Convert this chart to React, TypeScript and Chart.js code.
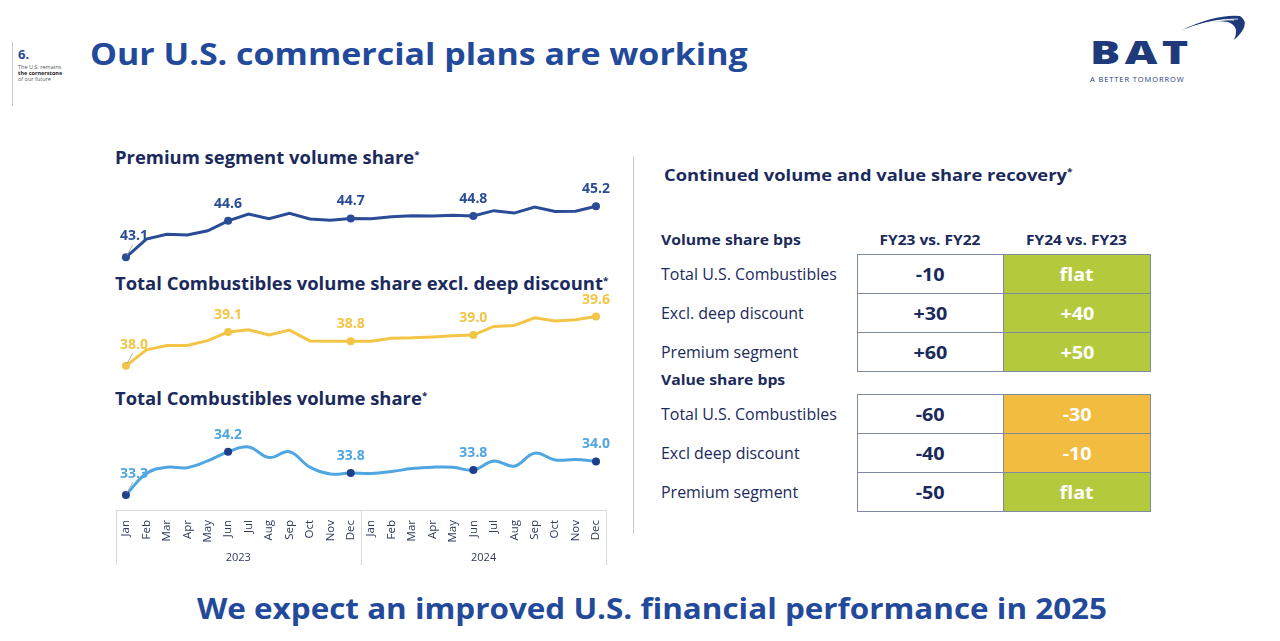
import React, { useEffect, useRef } from "react";
import { Chart, registerables } from "chart.js";

Chart.register(...registerables);

// ---------- data ----------
const months = ["Jan", "Feb", "Mar", "Apr", "May", "Jun", "Jul", "Aug", "Sep", "Oct", "Nov", "Dec"];
const monthLabels = [...months, ...months];
const years = ["2023", "2024"];

const premiumShare = [43.1, 43.85, 44.05, 44.02, 44.19, 44.6, 44.88, 44.69, 44.91, 44.68, 44.63, 44.7, 44.69, 44.77, 44.81, 44.8, 44.83, 44.8, 45.02, 44.92, 45.17, 44.99, 45.0, 45.2];
const exclDeepDiscountShare = [38.0, 38.52, 38.66, 38.66, 38.82, 39.1, 39.17, 39.0, 39.16, 38.81, 38.8, 38.8, 38.8, 38.9, 38.91, 38.94, 38.98, 39.0, 39.28, 39.31, 39.56, 39.46, 39.5, 39.6];
const totalCombustiblesShare = [33.3, 33.75, 33.88, 33.87, 34.01, 34.2, 34.3, 34.08, 34.2, 33.88, 33.74, 33.76, 33.75, 33.79, 33.85, 33.88, 33.88, 33.82, 34.01, 33.9, 34.17, 34.03, 34.04, 34.0];
const labelledIndices = [0, 5, 11, 17, 23];

const tableColumns = ["FY23 vs. FY22", "FY24 vs. FY23"];
const volumeRows = ["Total U.S. Combustibles", "Excl. deep discount", "Premium segment"];
const volumeFY23 = ["-10", "+30", "+60"];
const volumeFY24 = ["flat", "+40", "+50"];
const valueRows = ["Total U.S. Combustibles", "Excl deep discount", "Premium segment"];
const valueFY23 = ["-60", "-40", "-50"];
const valueFY24 = ["-30", "-10", "flat"];

// ---------- styles ----------
const FONT = "'Open Sans', sans-serif";
const TITLE_BLUE = "#23499a";
const NAVY = "#1b2a5c";
const PREMIUM_C = "#2a4c96";
const EXCL_C = "#f3c546";
const TOTAL_C = "#4fa6e0";
const GREEN = "#b5c93c";
const ORANGE = "#f1bc40";
const LOGO_C = "#1e3a7b";

const pointLabelPlugin = {
  id: "pointLabelPlugin",
  afterDatasetsDraw(chart: any) {
    const ctx = chart.ctx;
    ctx.save();
    ctx.font = `700 14px ${FONT}`;
    ctx.textAlign = "center";
    ctx.textBaseline = "middle";
    chart.data.datasets.forEach((ds: any, di: number) => {
      const meta = chart.getDatasetMeta(di);
      labelledIndices.forEach((i) => {
        const el = meta.data[i];
        if (!el) return;
        const v = Number(ds.data[i]).toFixed(1);
        let x = el.x;
        let y = el.y - 17;
        if (i === 0) {
          x = el.x + 8;
          y = el.y - 21;
          ctx.strokeStyle = "#9a9a9a";
          ctx.lineWidth = 0.8;
          ctx.beginPath();
          ctx.moveTo(el.x + 1, el.y - 2);
          ctx.lineTo(el.x + 7, el.y - 13);
          ctx.stroke();
        }
        ctx.fillStyle = ds.labelColor;
        ctx.fillText(v, x, y);
      });
    });
    ctx.restore();
  },
};

const axisBoxPlugin = {
  id: "axisBoxPlugin",
  afterDraw(chart: any) {
    const ctx = chart.ctx;
    const xs = chart.scales.x;
    const top = chart.chartArea.bottom;
    const bottom = top + 55;
    const step = xs.getPixelForValue(1) - xs.getPixelForValue(0);
    const left = xs.getPixelForValue(0) - step / 2;
    const mid = (xs.getPixelForValue(11) + xs.getPixelForValue(12)) / 2;
    const right = xs.getPixelForValue(23) + step / 2;
    ctx.save();
    ctx.strokeStyle = "#d9d9d9";
    ctx.lineWidth = 1;
    ctx.beginPath();
    ctx.moveTo(left, top + 0.5);
    ctx.lineTo(right, top + 0.5);
    [left, mid, right].forEach((x) => {
      ctx.moveTo(Math.round(x) + 0.5, top);
      ctx.lineTo(Math.round(x) + 0.5, bottom);
    });
    ctx.stroke();
    ctx.fillStyle = "#2d3a5c";
    ctx.font = `400 11px ${FONT}`;
    ctx.textAlign = "center";
    ctx.textBaseline = "middle";
    ctx.fillText(years[0], (left + mid) / 2, bottom - 7);
    ctx.fillText(years[1], (mid + right) / 2, bottom - 7);
    ctx.restore();
  },
};

function LineCharts() {
  const ref = useRef<HTMLCanvasElement>(null);
  useEffect(() => {
    if (!ref.current) return;
    const radius = (ctx: any) => (labelledIndices.includes(ctx.dataIndex) ? 4 : 0);
    const chart = new Chart(ref.current, {
      type: "line",
      data: {
        labels: monthLabels,
        datasets: [
          {
            data: premiumShare,
            yAxisID: "yPremium",
            borderColor: PREMIUM_C,
            borderWidth: 3,
            tension: 0,
            pointRadius: radius,
            pointBackgroundColor: PREMIUM_C,
            pointBorderWidth: 0,
            labelColor: PREMIUM_C,
          } as any,
          {
            data: exclDeepDiscountShare,
            yAxisID: "yExcl",
            borderColor: EXCL_C,
            borderWidth: 3,
            tension: 0,
            pointRadius: radius,
            pointBackgroundColor: EXCL_C,
            pointBorderWidth: 0,
            labelColor: EXCL_C,
          } as any,
          {
            data: totalCombustiblesShare,
            yAxisID: "yTotal",
            borderColor: TOTAL_C,
            borderWidth: 3,
            tension: 0.4,
            pointRadius: radius,
            pointBackgroundColor: "#1f3f8c",
            pointBorderWidth: 0,
            labelColor: TOTAL_C,
          } as any,
        ],
      },
      options: {
        animation: false,
        responsive: false,
        devicePixelRatio: 1,
        clip: false as any,
        layout: { padding: { top: 10, left: 15.7, right: 9.7, bottom: 15 } },
        plugins: { legend: { display: false }, tooltip: { enabled: false } },
        scales: {
          x: {
            type: "category",
            offset: true,
            grid: { display: false, drawTicks: false },
            border: { display: false },
            ticks: {
              autoSkip: false,
              minRotation: 90,
              maxRotation: 90,
              padding: 10,
              color: "#2d3a5c",
              font: { family: FONT, size: 11.5 },
            },
            afterFit: (s: any) => {
              s.height = 55;
            },
          },
          yPremium: { display: false, min: 32.7, max: 45.87 },
          yExcl: { display: false, min: 33.32, max: 43.71 },
          yTotal: { display: false, min: 32.99, max: 39.64 },
        },
      },
      plugins: [pointLabelPlugin, axisBoxPlugin],
    });
    return () => chart.destroy();
  }, []);
  return (
    <canvas
      ref={ref}
      width={520}
      height={400}
      style={{ position: "absolute", left: 100, top: 180, width: 520, height: 400 }}
    />
  );
}

const abs = (o: any): any => ({ position: "absolute", ...o });
const wide = (sx: number, origin = "left center") => ({ transform: `scaleX(${sx})`, transformOrigin: origin });

function Star() {
  return <sup style={{ fontSize: 9, verticalAlign: "top", position: "relative", top: -3 }}>*</sup>;
}

function ChartTitle({ text, top }: { text: string; top: number }) {
  return (
    <div style={abs({ left: 115, top, fontFamily: FONT, fontWeight: 700, fontSize: 17, color: NAVY, whiteSpace: "nowrap", lineHeight: "20px", ...wide(1.085) })}>
      {text}
      <Star />
    </div>
  );
}

function Table({ top, header, rows, c1, c2, withHeaderCols }: any) {
  const rowH = 39;
  const x1 = 857;
  const x2 = 1003;
  const x3 = 1150;
  const cellBox = { display: "flex", alignItems: "center", justifyContent: "center", boxSizing: "border-box" as const, border: "1px solid #7f8aa3" };
  const cellText = { fontFamily: FONT, fontWeight: 700, fontSize: 18, display: "inline-block", ...wide(1.1, "center") };
  return (
    <>
      <div style={abs({ left: 661, top: top - 24, fontFamily: FONT, fontWeight: 700, fontSize: 14.5, color: NAVY, lineHeight: "20px", whiteSpace: "nowrap", ...wide(1.085) })}>{header}</div>
      {withHeaderCols &&
        tableColumns.map((c, i) => (
          <div key={c} style={abs({ left: i === 0 ? x1 : x2, width: i === 0 ? x2 - x1 : x3 - x2, top: top - 24, textAlign: "center", fontFamily: FONT, fontWeight: 700, fontSize: 14.5, color: NAVY, lineHeight: "20px", ...wide(1.07, "center") })}>{c}</div>
        ))}
      {rows.map((r: string, i: number) => (
        <React.Fragment key={r + i}>
          <div style={abs({ left: 661, top: top + i * rowH, height: rowH, display: "flex", alignItems: "center", fontFamily: FONT, fontSize: 15.5, color: NAVY, whiteSpace: "nowrap", ...wide(1.03) })}>{r}</div>
          <div style={abs({ ...cellBox, left: x1, top: top + i * rowH, width: x2 - x1 + 1, height: rowH + 1, background: "#fff", color: NAVY })}>
            <span style={cellText}>{c1[i]}</span>
          </div>
          <div style={abs({ ...cellBox, left: x2, top: top + i * rowH, width: x3 - x2 + 1, height: rowH + 1, background: c2[i].startsWith("-") ? ORANGE : GREEN, color: "#fff" })}>
            <span style={cellText}>{c2[i]}</span>
          </div>
        </React.Fragment>
      ))}
    </>
  );
}

function Logo() {
  return (
    <div style={abs({ left: 1088, top: 10, width: 170, height: 80 })}>
      <svg width="170" height="80" style={{ position: "absolute", left: 0, top: 0 }}>
        <path d="M94 20 Q 128 4 152 6 Q 164 14 146 30 Q 152 16 140 12 Q 122 9 94 20 Z" fill={LOGO_C} />
        <path d="M104 17 Q 130 8 146 10" stroke="#fff" strokeWidth="1" fill="none" />
        <path d="M116 14 Q 136 9 150 9" stroke="#fff" strokeWidth="0.8" fill="none" />
      </svg>
      <div style={abs({ left: 2, top: 22, fontFamily: FONT, fontWeight: 800, fontSize: 31, color: LOGO_C, letterSpacing: 3, lineHeight: "40px", ...wide(1.45) })}>BAT</div>
      <div style={abs({ left: 2, top: 64, fontFamily: FONT, fontSize: 7.5, color: LOGO_C, letterSpacing: 0.9, whiteSpace: "nowrap", lineHeight: "10px" })}>A BETTER TOMORROW</div>
    </div>
  );
}

export default function App() {
  return (
    <div style={{ position: "fixed", left: 0, top: 0, width: 1280, height: 641, background: "#fff", overflow: "hidden" }}>
      {/* header */}
      <div style={abs({ left: 12, top: 42, width: 1, height: 64, background: "#c8c8c8" })} />
      <div style={abs({ left: 18, top: 45, fontFamily: FONT, fontWeight: 700, fontSize: 13, color: TITLE_BLUE })}>6.</div>
      <div style={abs({ left: 18, top: 64, fontFamily: FONT, fontSize: 5.5, lineHeight: "6px", color: "#555" })}>
        The U.S. remains
        <br />
        <b style={{ color: "#222" }}>the cornerstone</b>
        <br />
        of our future
      </div>
      <div style={abs({ left: 90, top: 32, fontFamily: FONT, fontWeight: 700, fontSize: 31, color: TITLE_BLUE, whiteSpace: "nowrap", lineHeight: "42px", ...wide(1.095) })}>
        Our U.S. commercial plans are working
      </div>
      <Logo />

      {/* left charts */}
      <ChartTitle text="Premium segment volume share" top={148} />
      <ChartTitle text="Total Combustibles volume share excl. deep discount" top={274} />
      <ChartTitle text="Total Combustibles volume share" top={389} />
      <LineCharts />

      {/* divider */}
      <div style={abs({ left: 633, top: 157, width: 1, height: 377, background: "#c8c8c8" })} />

      {/* right table */}
      <div style={abs({ left: 664, top: 164, fontFamily: FONT, fontWeight: 700, fontSize: 16.5, color: NAVY, whiteSpace: "nowrap", lineHeight: "22px", ...wide(1.11) })}>
        Continued volume and value share recovery
        <Star />
      </div>
      <Table top={254} header="Volume share bps" rows={volumeRows} c1={volumeFY23} c2={volumeFY24} withHeaderCols />
      <Table top={394} header="Value share bps" rows={valueRows} c1={valueFY23} c2={valueFY24} withHeaderCols={false} />

      {/* bottom */}
      <div style={abs({ left: 652, top: 588, fontFamily: FONT, fontWeight: 700, fontSize: 29, color: TITLE_BLUE, whiteSpace: "nowrap", lineHeight: "40px", transform: "translateX(-50%) scaleX(1.083)", transformOrigin: "center" })}>
        We expect an improved U.S. financial performance in 2025
      </div>
    </div>
  );
}
